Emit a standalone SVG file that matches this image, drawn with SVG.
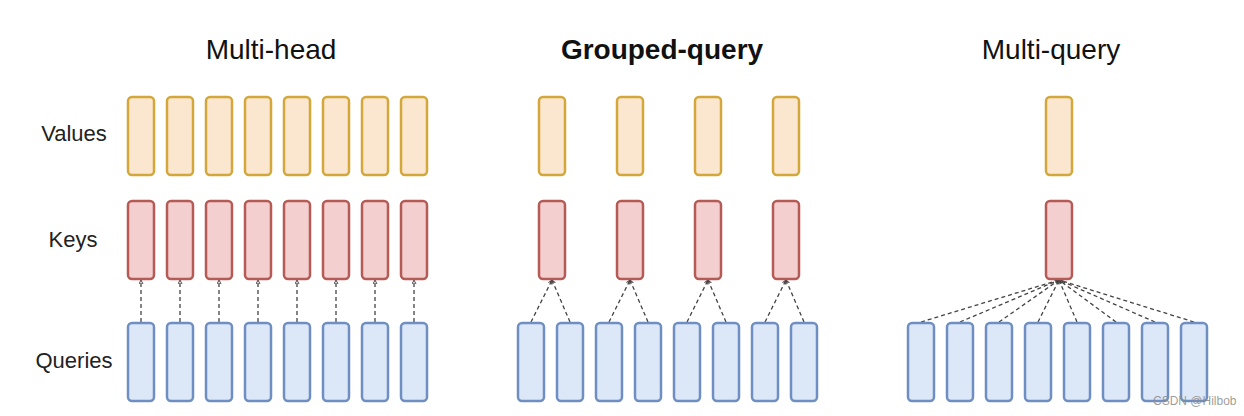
<svg xmlns="http://www.w3.org/2000/svg" width="1244" height="416" viewBox="0 0 1244 416">
<defs>
<style>
.v{fill:#fbe7cf;stroke:#d4a73a;stroke-width:2.5}
.k{fill:#f3d0cf;stroke:#b55a55;stroke-width:2.5}
.q{fill:#dce7f8;stroke:#6f8fc2;stroke-width:2.5}
.c{stroke:#444;stroke-width:1.3;stroke-dasharray:4 3;fill:none;marker-end:url(#ah)}
.t{font-family:"Liberation Sans",Arial,sans-serif;font-size:28px;fill:#111;text-anchor:middle}
.r{font-family:"Liberation Sans",Arial,sans-serif;font-size:22px;fill:#222;text-anchor:middle}
</style>
<marker id="ah" markerWidth="5" markerHeight="5" refX="4" refY="2.5" orient="auto" markerUnits="userSpaceOnUse">
<path d="M0,0.5 L4,2.5 L0,4.5" fill="none" stroke="#444" stroke-width="1"/>
</marker>
<rect id="box" width="26" height="78" rx="4"/>
</defs>
<rect width="1244" height="416" fill="#fff"/>
<g id="titles">
<text class="t" x="271" y="59">Multi-head</text>
<text class="t" x="662" y="59" font-weight="bold">Grouped-query</text>
<text class="t" x="1051" y="59">Multi-query</text>
</g>
<g id="row-labels">
<text class="r" x="74" y="141">Values</text>
<text class="r" x="73" y="247">Keys</text>
<text class="r" x="74" y="368">Queries</text>
</g>
<g id="connectors">
<line class="c" x1="141" y1="322" x2="141" y2="280"/>
<line class="c" x1="180" y1="322" x2="180" y2="280"/>
<line class="c" x1="219" y1="322" x2="219" y2="280"/>
<line class="c" x1="258" y1="322" x2="258" y2="280"/>
<line class="c" x1="297" y1="322" x2="297" y2="280"/>
<line class="c" x1="336" y1="322" x2="336" y2="280"/>
<line class="c" x1="375" y1="322" x2="375" y2="280"/>
<line class="c" x1="414" y1="322" x2="414" y2="280"/>
<line class="c" x1="531" y1="322" x2="552" y2="280"/>
<line class="c" x1="570" y1="322" x2="552" y2="280"/>
<line class="c" x1="609" y1="322" x2="630" y2="280"/>
<line class="c" x1="648" y1="322" x2="630" y2="280"/>
<line class="c" x1="687" y1="322" x2="708" y2="280"/>
<line class="c" x1="726" y1="322" x2="708" y2="280"/>
<line class="c" x1="765" y1="322" x2="786" y2="280"/>
<line class="c" x1="804" y1="322" x2="786" y2="280"/>
<line class="c" x1="921" y1="322" x2="1059" y2="280"/>
<line class="c" x1="960" y1="322" x2="1059" y2="280"/>
<line class="c" x1="999" y1="322" x2="1059" y2="280"/>
<line class="c" x1="1038" y1="322" x2="1059" y2="280"/>
<line class="c" x1="1077" y1="322" x2="1059" y2="280"/>
<line class="c" x1="1116" y1="322" x2="1059" y2="280"/>
<line class="c" x1="1155" y1="322" x2="1059" y2="280"/>
<line class="c" x1="1194" y1="322" x2="1059" y2="280"/>
</g>
<g id="mh-values" class="v">
<use href="#box" x="128" y="97"/><use href="#box" x="167" y="97"/><use href="#box" x="206" y="97"/><use href="#box" x="245" y="97"/>
<use href="#box" x="284" y="97"/><use href="#box" x="323" y="97"/><use href="#box" x="362" y="97"/><use href="#box" x="401" y="97"/>
</g>
<g id="mh-keys" class="k">
<use href="#box" x="128" y="201"/><use href="#box" x="167" y="201"/><use href="#box" x="206" y="201"/><use href="#box" x="245" y="201"/>
<use href="#box" x="284" y="201"/><use href="#box" x="323" y="201"/><use href="#box" x="362" y="201"/><use href="#box" x="401" y="201"/>
</g>
<g id="mh-queries" class="q">
<use href="#box" x="128" y="323"/><use href="#box" x="167" y="323"/><use href="#box" x="206" y="323"/><use href="#box" x="245" y="323"/>
<use href="#box" x="284" y="323"/><use href="#box" x="323" y="323"/><use href="#box" x="362" y="323"/><use href="#box" x="401" y="323"/>
</g>
<g id="gq-values" class="v">
<use href="#box" x="539" y="97"/><use href="#box" x="617" y="97"/><use href="#box" x="695" y="97"/><use href="#box" x="773" y="97"/>
</g>
<g id="gq-keys" class="k">
<use href="#box" x="539" y="201"/><use href="#box" x="617" y="201"/><use href="#box" x="695" y="201"/><use href="#box" x="773" y="201"/>
</g>
<g id="gq-queries" class="q">
<use href="#box" x="518" y="323"/><use href="#box" x="557" y="323"/><use href="#box" x="596" y="323"/><use href="#box" x="635" y="323"/>
<use href="#box" x="674" y="323"/><use href="#box" x="713" y="323"/><use href="#box" x="752" y="323"/><use href="#box" x="791" y="323"/>
</g>
<g id="mq-values" class="v"><use href="#box" x="1046" y="97"/></g>
<g id="mq-keys" class="k"><use href="#box" x="1046" y="201"/></g>
<g id="mq-queries" class="q">
<use href="#box" x="908" y="323"/><use href="#box" x="947" y="323"/><use href="#box" x="986" y="323"/><use href="#box" x="1025" y="323"/>
<use href="#box" x="1064" y="323"/><use href="#box" x="1103" y="323"/><use href="#box" x="1142" y="323"/><use href="#box" x="1181" y="323"/>
</g>
<text x="1153" y="405" font-family="'Liberation Sans',Arial,sans-serif" font-size="12" fill="#8a8a8a" fill-opacity="0.85">CSDN @Hilbob</text>
</svg>
